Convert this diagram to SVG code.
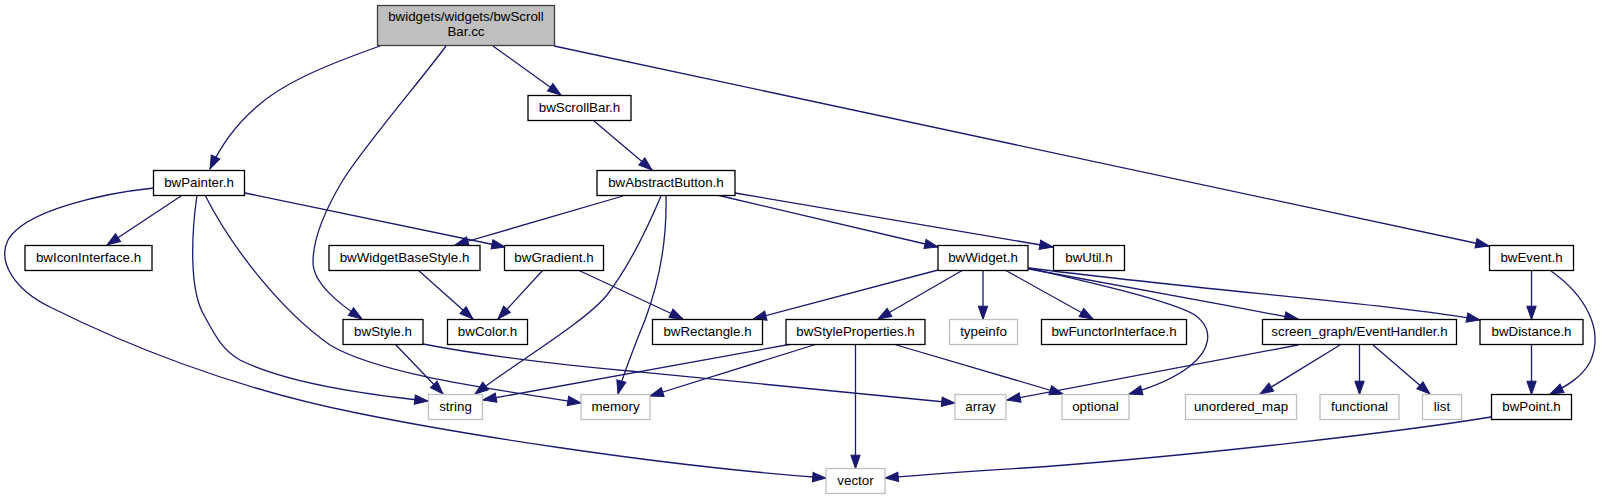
<svg xmlns="http://www.w3.org/2000/svg" width="1604" height="500" viewBox="0 0 1604 500">
<style>
rect{stroke-width:1.3}
.n rect{fill:#fff;stroke:#000}
.r rect{fill:#bfbfbf;stroke:#404040}
.g rect{fill:#fff;stroke:#bfbfbf}
text{font-family:"Liberation Sans",Arial,Helvetica,sans-serif;font-size:13.33px;fill:#000;text-anchor:middle}
#edges path{fill:none;stroke:#191970;stroke-width:1.3;marker-end:url(#arr)}
</style>
<defs>
<marker id="arr" markerUnits="userSpaceOnUse" markerWidth="15" markerHeight="12" viewBox="-1 -1 15 12" refX="13.3" refY="5" orient="auto">
<path d="M0,0.3 L13.3,5 L0,9.7 z" fill="#191970" stroke="#191970" stroke-width="1"/>
</marker>
</defs>
<g id="edges">
<path d="M380,46 C335,62 288,80 260,104 C238,122 222,143 210,169"/>
<path d="M446,46 C425,75 365,145 343,180 C325,210 313,240 313,262 C313,283 338,303 362,319"/>
<path d="M493,46 L561,95"/>
<path d="M554,46 L1489,246"/>
<path d="M594,121 L652,170"/>
<path d="M181,196 L107,245"/>
<path d="M245,193 L505,247"/>
<path d="M197,195 C192,230 188,290 205,317 C215,335 222,350 240,360 C280,380 350,393 428,401"/>
<path d="M205,195 C230,245 280,310 330,345 C380,375 500,390 581,403"/>
<path d="M154,188 C105,193 25,210 8,240 C-3,262 15,290 50,307 C120,342 230,388 357,413 C450,432 650,465 826,478"/>
<path d="M623,196 L455,245"/>
<path d="M661,196 C650,222 630,265 607,295 C585,322 520,360 475,394"/>
<path d="M666,196 C667,240 660,280 645,320 C632,352 623,375 618,394"/>
<path d="M717,195 L938,247"/>
<path d="M735,193 L1053,247"/>
<path d="M418,270 L473,319"/>
<path d="M543,270 L498,319"/>
<path d="M578,270 L683,319"/>
<path d="M395,344 L443,394"/>
<path d="M423,344 C480,355 560,365 640,372 C760,383 880,396 955,403"/>
<path d="M938,270 L753,319"/>
<path d="M963,270 L878,319"/>
<path d="M983,270.5 L983,319.5"/>
<path d="M1005,270 L1093,319"/>
<path d="M1028,268 C1080,280 1170,300 1195,315 C1215,330 1210,350 1190,366 C1175,378 1150,388 1129,394"/>
<path d="M1029,269 C1080,279 1200,300 1298,319"/>
<path d="M1029,268 C1200,290 1400,305 1480,320"/>
<path d="M792,344 L483,400"/>
<path d="M817,344 L650,396"/>
<path d="M855.5,344.5 L855.5,468.5"/>
<path d="M893,344 L1063,394"/>
<path d="M1298,345 L1007,400"/>
<path d="M1340,345 L1260,394"/>
<path d="M1359.5,344.5 L1359.5,394.5"/>
<path d="M1373,345 L1430,394"/>
<path d="M1531.5,270.5 L1531.5,319.5"/>
<path d="M1551,271 C1585,295 1605,330 1590,362 C1582,377 1567,386 1550,394"/>
<path d="M1531.5,344.5 L1531.5,394.5"/>
<path d="M1491,417 C1400,432 1200,455 1040,467 C960,472 920,475 885,478"/>
</g>
<g id="root" class="r"><rect x="377.5" y="5.5" width="177" height="40"/><text x="466" y="21">bwidgets/widgets/bwScroll</text><text x="466" y="36">Bar.cc</text></g>
<g id="bwPainter" class="n"><rect x="153.5" y="170.5" width="91" height="25"/><text x="199" y="187">bwPainter.h</text></g>
<g id="bwScrollBar" class="n"><rect x="528" y="95.5" width="103" height="25"/><text x="579.5" y="112">bwScrollBar.h</text></g>
<g id="bwAbstractButton" class="n"><rect x="597" y="170.5" width="138" height="25"/><text x="666" y="187">bwAbstractButton.h</text></g>
<g id="bwIconInterface" class="n"><rect x="25" y="245.5" width="127" height="25"/><text x="88.5" y="262">bwIconInterface.h</text></g>
<g id="bwWidgetBaseStyle" class="n"><rect x="329" y="245.5" width="151" height="25"/><text x="404.5" y="262">bwWidgetBaseStyle.h</text></g>
<g id="bwGradient" class="n"><rect x="504.5" y="245.5" width="99" height="25"/><text x="554" y="262">bwGradient.h</text></g>
<g id="bwWidget" class="n"><rect x="938" y="245.5" width="90" height="25"/><text x="983" y="262">bwWidget.h</text></g>
<g id="bwUtil" class="n"><rect x="1053.5" y="245.5" width="71" height="25"/><text x="1089" y="262">bwUtil.h</text></g>
<g id="bwEvent" class="n"><rect x="1489.5" y="245.5" width="84" height="25"/><text x="1531.5" y="262">bwEvent.h</text></g>
<g id="bwStyle" class="n"><rect x="343" y="319.5" width="80" height="25"/><text x="383" y="336">bwStyle.h</text></g>
<g id="bwColor" class="n"><rect x="447.5" y="319.5" width="80" height="25"/><text x="487.5" y="336">bwColor.h</text></g>
<g id="bwRectangle" class="n"><rect x="652.5" y="319.5" width="110" height="25"/><text x="707.5" y="336">bwRectangle.h</text></g>
<g id="bwStyleProperties" class="n"><rect x="786" y="319.5" width="139" height="25"/><text x="855.5" y="336">bwStyleProperties.h</text></g>
<g id="typeinfo" class="g"><rect x="949.5" y="319.5" width="68" height="25"/><text x="983.5" y="336">typeinfo</text></g>
<g id="bwFunctorInterface" class="n"><rect x="1041.5" y="319.5" width="145" height="25"/><text x="1114" y="336">bwFunctorInterface.h</text></g>
<g id="EventHandler" class="n"><rect x="1262.5" y="319.5" width="194" height="25"/><text x="1359.5" y="336">screen_graph/EventHandler.h</text></g>
<g id="bwDistance" class="n"><rect x="1480" y="319.5" width="103" height="25"/><text x="1531.5" y="336">bwDistance.h</text></g>
<g id="string" class="g"><rect x="428.5" y="394.5" width="54" height="25"/><text x="455.5" y="411">string</text></g>
<g id="memory" class="g"><rect x="581" y="394.5" width="69" height="25"/><text x="615.5" y="411">memory</text></g>
<g id="array" class="g"><rect x="955" y="394.5" width="51" height="25"/><text x="980.5" y="411">array</text></g>
<g id="optional" class="g"><rect x="1062" y="394.5" width="67" height="25"/><text x="1095.5" y="411">optional</text></g>
<g id="unordered_map" class="g"><rect x="1185.5" y="394.5" width="111" height="25"/><text x="1241" y="411">unordered_map</text></g>
<g id="functional" class="g"><rect x="1320" y="394.5" width="79" height="25"/><text x="1359.5" y="411">functional</text></g>
<g id="list" class="g"><rect x="1422.5" y="394.5" width="39" height="25"/><text x="1442" y="411">list</text></g>
<g id="bwPoint" class="n"><rect x="1491.5" y="394.5" width="80" height="25"/><text x="1531.5" y="411">bwPoint.h</text></g>
<g id="vector" class="g"><rect x="826" y="468.5" width="59" height="25"/><text x="855.5" y="485">vector</text></g>
</svg>
